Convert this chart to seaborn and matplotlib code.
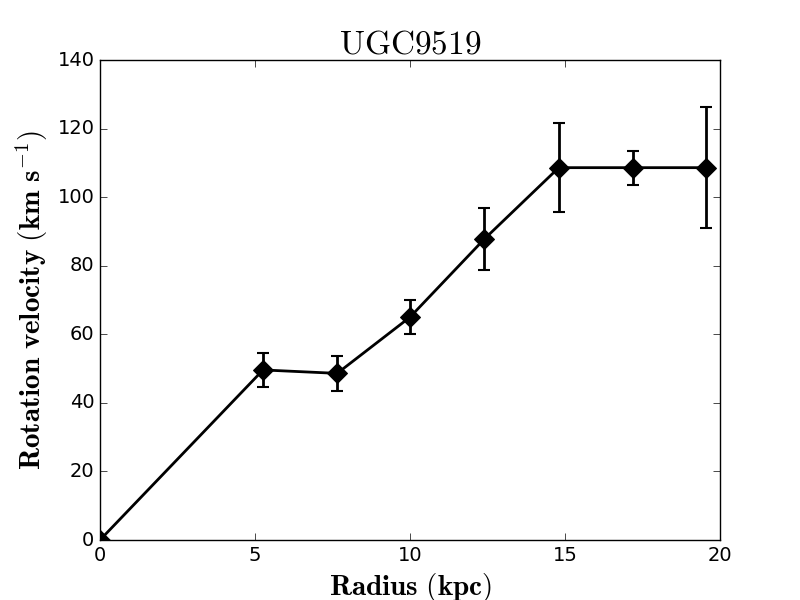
import matplotlib
matplotlib.use("Agg")
import matplotlib.pyplot as plt
import seaborn as sns
import pandas as pd

# UGC9519 rotation curve
radius = [0.0, 5.26, 7.65, 10.0, 12.4, 14.8, 17.18, 19.55]
velocity = [0.0, 49.6, 48.6, 65.0, 87.8, 108.6, 108.6, 108.6]
velocity_err = [0.0, 5.0, 5.0, 5.0, 9.0, 13.0, 5.0, 17.7]

x_ticks = [0, 5, 10, 15, 20]
y_ticks = [0, 20, 40, 60, 80, 100, 120, 140]

df = pd.DataFrame({"radius": radius, "velocity": velocity, "err": velocity_err})

plt.style.use("classic")
plt.rcParams["mathtext.fontset"] = "cm"
plt.rcParams["font.family"] = ["DejaVu Sans"]

fig, ax = plt.subplots(figsize=(8, 6), dpi=100)
fig.patch.set_facecolor("white")
fig.subplots_adjust(left=0.125, right=0.9, bottom=0.1, top=0.9)

# error bars first, then the line with diamond markers
ax.errorbar(df["radius"], df["velocity"], yerr=df["err"], fmt="none",
            ecolor="black", elinewidth=2, capsize=4, capthick=1.5, zorder=2)
sns.lineplot(data=df, x="radius", y="velocity", ax=ax, color="black",
             linewidth=2, marker="D", markersize=10, markeredgecolor="black",
             markerfacecolor="black", zorder=3)

ax.set_xlim(0, 20)
ax.set_ylim(0, 140)
ax.set_xticks(x_ticks)
ax.set_yticks(y_ticks)
ax.tick_params(labelsize=14, direction="in", length=5)

ax.set_title(r"$\mathrm{UGC9519}$", fontsize=24)
ax.set_xlabel(r"$\mathbf{Radius\ (kpc)}$", fontsize=21)
ax.set_ylabel(r"$\mathbf{Rotation\ velocity\ (km\ s^{-1})}$", fontsize=21)

fig.savefig("out.png", dpi=100, facecolor="white")
